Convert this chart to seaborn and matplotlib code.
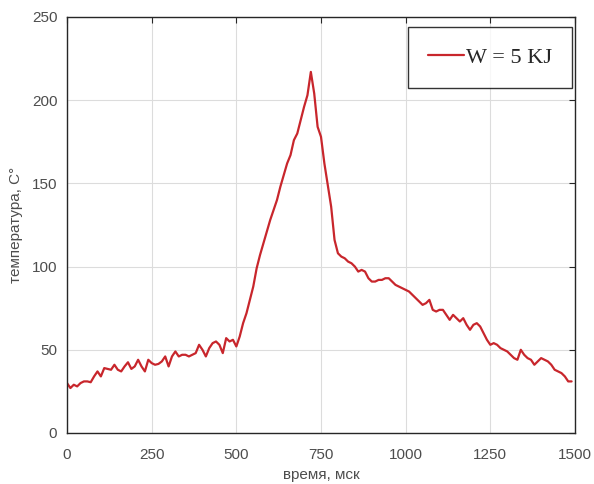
import numpy as np
import pandas as pd
import matplotlib
matplotlib.use('Agg')
import matplotlib.pyplot as plt
import seaborn as sns

# время, мск (шаг 10 мс)
time_ms = list(range(0, 1500, 10))

# температура
temp_c = [
    30, 27, 29, 28, 30, 31, 31, 30.5, 34, 37,
    34, 39, 38.5, 38, 41, 38, 37, 40, 42.5, 38.5,
    40, 44, 40, 37, 44, 42, 41, 41.5, 43, 46,
    40, 46, 49, 46, 47, 47, 46, 47, 48, 53,
    50, 46, 51, 54, 55, 53, 48, 57, 55, 56,
    52, 58, 66, 72, 80, 88, 99, 107, 114, 121,
    128, 134, 140, 148, 155, 162, 167, 176, 180, 188,
    196, 203, 217, 204, 184, 178, 162, 149, 136, 116,
    108, 106, 105, 103, 102, 100, 97, 98, 97, 93,
    91, 91, 92, 92, 93, 93, 91, 89, 88, 87,
    86, 85, 83, 81, 79, 77, 78, 80, 74, 73,
    74, 74, 71, 68, 71, 69, 67, 69, 65, 62,
    65, 66, 64, 60, 56, 53, 54, 53, 51, 50,
    49, 47, 45, 44, 50, 47, 45, 44, 41, 43,
    45, 44, 43, 41, 38, 37, 36, 34, 31, 31,
]

x_ticks = [0, 250, 500, 750, 1000, 1250, 1500]
y_ticks = [0, 50, 100, 150, 200, 250]

df = pd.DataFrame({'t': time_ms, 'T': temp_c})

sns.set_style('white')
plt.rcParams['font.family'] = ['Liberation Sans', 'DejaVu Sans']

fig = plt.figure(figsize=(5.94, 4.84), dpi=100)
ax = fig.add_axes([0.1128, 0.1054, 0.8552, 0.8595])

sns.lineplot(data=df, x='t', y='T', color='#c8262c', linewidth=1.6,
             label='W = 5 KJ', ax=ax)

ax.set_xlim(0, 1500)
ax.set_ylim(0, 250)
ax.set_xticks(x_ticks)
ax.set_yticks(y_ticks)
ax.grid(True, color='#dcdcdc', linewidth=0.8)
ax.tick_params(direction='in', length=4, top=True, right=True,
               labelsize=11, labelcolor='#4d4d4d', color='#262626')
ax.tick_params(axis='x', pad=11)
ax.tick_params(axis='y', pad=7)
for s in ax.spines.values():
    s.set_color('#262626')
    s.set_linewidth(1.0)

ax.set_xlabel('время, мск', fontsize=11, color='#4d4d4d', labelpad=4)
ax.set_ylabel('температура, C°', fontsize=11, color='#4d4d4d', labelpad=6)

# легенда в рамке, как в MATLAB
leg = ax.legend(loc='upper right', bbox_to_anchor=(0.994, 0.976),
                prop={'family': 'Liberation Serif', 'size': 16},
                frameon=True, fancybox=False, edgecolor='black',
                handlelength=1.6, handletextpad=0.1, borderpad=0.9,
                borderaxespad=0)
leg.get_frame().set_linewidth(1.0)

fig.savefig('out.png', dpi=100)
